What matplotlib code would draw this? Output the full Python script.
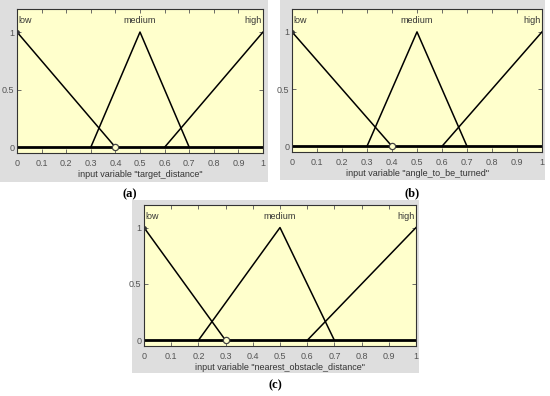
import matplotlib.pyplot as plt
from matplotlib.patches import Rectangle

plt.rcParams['font.family'] = ['Liberation Sans Narrow', 'Liberation Sans', 'DejaVu Sans']

# membership function breakpoints (x, y) for each input variable
mf_names = ["low", "medium", "high"]
panel_labels = ["(a)", "(b)", "(c)"]
var_names = ['input variable "target_distance"',
             'input variable "angle_to_be_turned"',
             'input variable "nearest_obstacle_distance"']

low_x = [[0, 0.4], [0, 0.4], [0, 0.3]]
low_y = [1, 0]
med_x = [[0.3, 0.5, 0.7], [0.3, 0.5, 0.7], [0.2, 0.5, 0.7]]
med_y = [0, 1, 0]
high_x = [[0.6, 1.0], [0.6, 1.0], [0.6, 1.0]]
high_y = [0, 1]

xticks = [0, 0.1, 0.2, 0.3, 0.4, 0.5, 0.6, 0.7, 0.8, 0.9, 1]
xtick_labels = ["0", "0.1", "0.2", "0.3", "0.4", "0.5", "0.6", "0.7", "0.8", "0.9", "1"]
yticks = [0, 0.5, 1]
ytick_labels = ["0", "0.5", "1"]

W, H = 550, 396
fig = plt.figure(figsize=(W / 100, H / 100), dpi=100)
fig.patch.set_facecolor("white")

# pixel boxes: (left, top, right, bottom) for gray panel and axes
gray_boxes = [(0, 0, 268, 182), (280, 0, 545, 180), (132, 200, 419, 373)]
ax_boxes = [(17, 9, 263, 153), (292, 9, 542, 152), (144, 205, 416, 346)]
caption_pos = [(130, 194), (412, 193), (275, 385)]


def frac(box):
    l, t, r, b = box
    return [l / W, 1 - b / H, (r - l) / W, (b - t) / H]


for i in range(3):
    g = frac(gray_boxes[i])
    fig.add_artist(Rectangle((g[0], g[1]), g[2], g[3], transform=fig.transFigure,
                             facecolor="#dedede", edgecolor="none", zorder=-5))

    ax = fig.add_axes(frac(ax_boxes[i]))
    ax.set_facecolor("#ffffcc")
    ax.plot(low_x[i], low_y, color="black", lw=1.1)
    ax.plot(med_x[i], med_y, color="black", lw=1.1)
    ax.plot(high_x[i], high_y, color="black", lw=1.1)
    ax.axhline(0, color="black", lw=2)
    ax.plot([low_x[i][1]], [0], marker="o", ms=4.5, mfc="#ffffcc", mec="#444444", mew=0.9)
    ax.plot([0], [1], marker="o", ms=2.5, color="#333333")

    ax.text(0.005, 1.1, mf_names[0], ha="left", va="center", fontsize=6.5, color="#333333")
    ax.text(0.5, 1.1, mf_names[1], ha="center", va="center", fontsize=6.5, color="#333333")
    ax.text(0.995, 1.1, mf_names[2], ha="right", va="center", fontsize=6.5, color="#333333")

    ax.set_xlim(0, 1)
    ax.set_ylim(-0.05, 1.2)
    ax.set_xticks(xticks)
    ax.set_xticklabels(xtick_labels)
    ax.set_yticks(yticks)
    ax.set_yticklabels(ytick_labels)
    ax.tick_params(direction="in", length=3, width=0.6, top=True, right=True,
                   labelsize=6.5, labelcolor="#555555", color="#555555")
    ax.tick_params(axis="x", pad=4)
    ax.tick_params(axis="y", pad=2)
    for s in ax.spines.values():
        s.set_color("#333333")
        s.set_linewidth(0.8)
    ax.set_xlabel(var_names[i], fontsize=6.5, color="#333333", labelpad=2)

    cx, cy = caption_pos[i]
    fig.text(cx / W, 1 - cy / H, panel_labels[i], ha="center", va="center",
             fontsize=9, fontweight="bold", family="Liberation Serif")

fig.savefig("out.png", dpi=100, facecolor="white")
